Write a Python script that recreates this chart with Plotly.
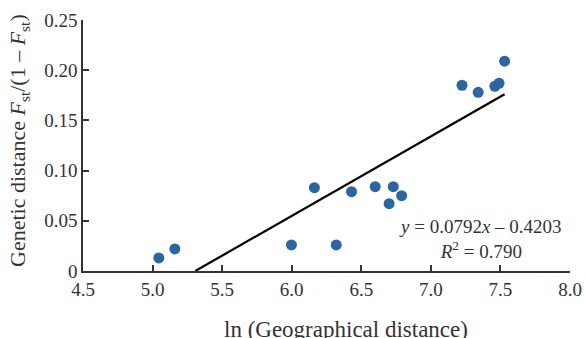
import plotly.graph_objects as go

geo_ln = [5.045, 5.16, 5.998, 6.163, 6.32, 6.43, 6.60, 6.70, 6.73, 6.79, 7.224, 7.34, 7.46, 7.49, 7.53]
gen_dist = [0.013, 0.022, 0.026, 0.083, 0.026, 0.079, 0.084, 0.067, 0.084, 0.075, 0.185, 0.178, 0.184, 0.187, 0.209]

slope = 0.0792
intercept = -0.4203
fit_x = [-intercept / slope, 7.53]
fit_y = [slope * v + intercept for v in fit_x]

x_ticks = [4.5, 5.0, 5.5, 6.0, 6.5, 7.0, 7.5, 8.0]
x_ticktext = ["4.5", "5.0", "5.5", "6.0", "6.5", "7.0", "7.5", "8.0"]
y_ticks = [0, 0.05, 0.10, 0.15, 0.20, 0.25]
y_ticktext = ["0", "0.05", "0.10", "0.15", "0.20", "0.25"]

FONT = "Liberation Serif"
INK = "#333333"

fig = go.Figure()
fig.add_trace(go.Scatter(x=fit_x, y=fit_y, mode="lines",
                         line=dict(color="#000000", width=2.2), showlegend=False))
fig.add_trace(go.Scatter(x=geo_ln, y=gen_dist, mode="markers",
                         marker=dict(color="#2a66a2", size=11), showlegend=False))

fig.add_annotation(x=7.36, y=0.032, xref="x", yref="y", showarrow=False,
                   text="<i>y</i> = 0.0792<i>x</i> – 0.4203<br><i>R</i><sup>2</sup> = 0.790",
                   font=dict(family=FONT, size=19, color=INK), align="center")

# axis titles as annotations for precise placement
fig.add_annotation(x=(346 - 83) / 487, y=-(329 - 271) / 251, xref="paper", yref="paper",
                   showarrow=False, xanchor="center", yanchor="middle",
                   text="ln (Geographical distance)",
                   font=dict(family=FONT, size=23, color=INK))
fig.add_annotation(x=-(83 - 19) / 487, y=(271 - 141) / 251, xref="paper", yref="paper",
                   showarrow=False, xanchor="center", yanchor="middle", textangle=-90,
                   text="Genetic distance <i>F</i><sub>st</sub>/(1 – <i>F</i><sub>st</sub>)",
                   font=dict(family=FONT, size=22, color=INK))

fig.update_xaxes(range=[4.5, 8.0], tickvals=x_ticks, ticktext=x_ticktext,
                 showline=True, linecolor=INK, linewidth=1.5, ticks="inside",
                 ticklen=6, tickcolor=INK, tickwidth=1.5, showgrid=False, zeroline=False,
                 automargin=False,
                 tickfont=dict(family=FONT, size=19, color=INK))
fig.update_yaxes(range=[0, 0.25], tickvals=y_ticks, ticktext=y_ticktext,
                 showline=True, linecolor=INK, linewidth=1.5, ticks="inside",
                 ticklen=6, tickcolor=INK, tickwidth=1.5, showgrid=False, zeroline=False,
                 automargin=False,
                 tickfont=dict(family=FONT, size=19, color=INK))

fig.update_layout(width=585, height=338, margin=dict(l=83, r=15, t=20, b=67),
                  plot_bgcolor="white", paper_bgcolor="white")

fig.write_html("out.html", config={"displayModeBar": False},
               post_script="document.body.style.margin='0';document.body.style.overflow='hidden';")
